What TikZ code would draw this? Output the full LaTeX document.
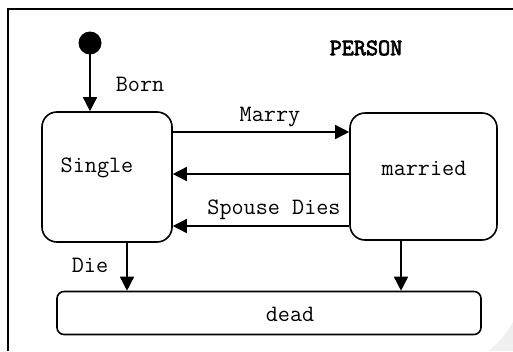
\documentclass[tikz,border=0pt]{standalone}
\usepackage{fontspec}
\newfontfamily\titlefont[FakeBold=3]{Latin Modern Mono}
\usetikzlibrary{arrows.meta}
\begin{document}
\begin{tikzpicture}[x=1pt,y=-1pt,
  every node/.style={font=\ttfamily\fontsize{23.5}{26}\selectfont},
  state/.style={draw,line width=1.6pt,rounded corners=15pt,inner sep=0pt},
  trans/.style={line width=1.5pt,-{Triangle[width=14pt,length=14pt]}},
  lbl/.style={inner sep=0pt}]
\useasboundingbox (0,0) rectangle (513,351);
\fill[gray!12] (513,322) .. controls (505,335) and (497,345) .. (488,351) -- (513,351) -- cycle;
\draw[line width=2pt] (8,351) -- (8,9) -- (513,9);
\node[lbl,font=\titlefont\fontsize{23.5}{26}\selectfont] (title) at (366,48) {PERSON};
\fill (90,43) circle (11.5pt);
\coordinate (init) at (90,54);
\node[state,minimum width=130pt,minimum height=130pt] (single) at (107,177) {};
\node[lbl] (singlet) at (97,168) {Single};
\node[state,minimum width=147pt,minimum height=127pt] (married) at (423.5,176.5) {};
\node[lbl] (marriedt) at (424,168) {married};
\node[state,rounded corners=7pt,minimum width=424pt,minimum height=43pt] (dead) at (269,313) {};
\node[lbl] (deadt) at (290,314) {dead};
\draw[trans] (init) -- (single.north -| init);
\node[lbl] (born) at (140,84) {Born};
\draw[trans] (single.east |- 0,132) -- (married.west |- 0,132);
\node[lbl] (marry) at (270,117) {Marry};
\draw[trans] (married.west |- 0,174) -- (single.east |- 0,174);
\draw[trans] (married.west |- 0,226) -- (single.east |- 0,226);
\node[lbl] (spouse) at (274,210) {Spouse Dies};
\draw[trans] (single.south -| 127,0) -- (dead.north -| 127,0);
\node[lbl] (die) at (90,265) {Die};
\draw[trans] (married.south -| 401,0) -- (dead.north -| 401,0);
\end{tikzpicture}
\end{document}
